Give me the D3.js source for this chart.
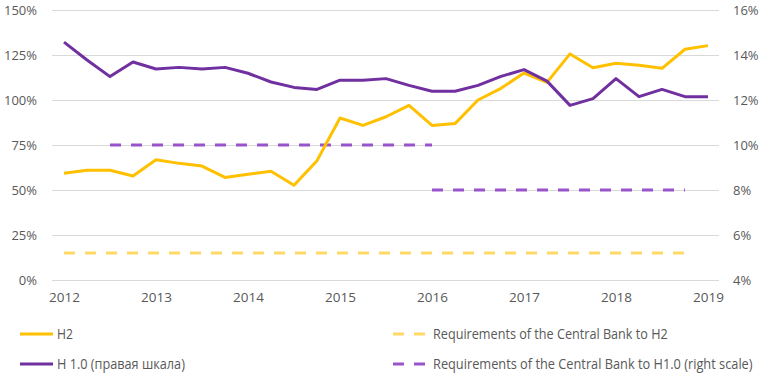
<!DOCTYPE html>
<html>
<head>
<meta charset="utf-8">
<script src="https://cdn.jsdelivr.net/npm/d3@7"></script>
<style>
  html, body { margin: 0; padding: 0; background: #fff; }
  svg { display: block; }
  text { font-family: "Open Sans", "DejaVu Sans", sans-serif; fill: #595959; }
</style>
</head>
<body>
<svg id="chart" width="767" height="382"></svg>
<script>
// ---- data ----
const quarters = [2012, 2012.25, 2012.5, 2012.75, 2013, 2013.25, 2013.5, 2013.75,
  2014, 2014.25, 2014.5, 2014.75, 2015, 2015.25, 2015.5, 2015.75,
  2016, 2016.25, 2016.5, 2016.75, 2017, 2017.25, 2017.5, 2017.75,
  2018, 2018.25, 2018.5, 2018.75, 2019];
const h2 = [59.3, 61, 61, 57.8, 66.8, 64.8, 63.3, 57, 58.7, 60.4, 52.6, 66.3,
  90, 85.9, 90.7, 97, 85.9, 86.9, 100, 106.5, 115, 109.8, 125.6, 117.9,
  120.4, 119.3, 117.6, 128.2, 130.2];
const h1 = [14.57, 13.78, 13.04, 13.69, 13.38, 13.45, 13.38, 13.45, 13.19, 12.8,
  12.56, 12.47, 12.88, 12.88, 12.95, 12.65, 12.39, 12.39, 12.65, 13.05, 13.35,
  12.84, 11.76, 12.06, 12.95, 12.15, 12.47, 12.15, 12.15];
const reqH2 = [15, 15, 15, 15, 15, 15, 15, 15, 15, 15, 15, 15, 15, 15, 15, 15,
  15, 15, 15, 15, 15, 15, 15, 15, 15, 15, 15, 15, null];
const reqH1Early = [null, null, 10, 10, 10, 10, 10, 10, 10, 10, 10, 10, 10, 10, 10, 10,
  10, null, null, null, null, null, null, null, null, null, null, null, null];
const reqH1Late = [null, null, null, null, null, null, null, null, null, null, null, null,
  null, null, null, null, 8, 8, 8, 8, 8, 8, 8, 8, 8, 8, 8, 8, null];
const yearTicks = [2012, 2013, 2014, 2015, 2016, 2017, 2018, 2019];
const leftTicks = [0, 25, 50, 75, 100, 125, 150];
const rightTicks = [4, 6, 8, 10, 12, 14, 16];
const legendLabels = ["H2", "Н 1.0 (правая шкала)",
  "Requirements of the Central Bank to H2",
  "Requirements of the Central Bank to H1.0 (right scale)"];

// ---- styles ----
const C_H2 = "#FFC000", C_REQH2 = "#FFD966", C_H1 = "#7030A0", C_REQH1 = "#9954CC";

const svg = d3.select("#chart");
const x = d3.scaleLinear().domain([2012, 2019]).range([64, 708]);
const yL = d3.scaleLinear().domain([0, 150]).range([280, 10]);
const yR = d3.scaleLinear().domain([4, 16]).range([280, 10]);

// gridlines
svg.append("g").selectAll("line").data(leftTicks).join("line")
  .attr("x1", 52).attr("x2", 719)
  .attr("y1", d => yL(d)).attr("y2", d => yL(d))
  .attr("stroke", "#d9d9d9").attr("stroke-width", 1).attr("shape-rendering", "crispEdges");

// axes
const axL = svg.append("g").attr("transform", "translate(37,0)")
  .call(d3.axisLeft(yL).tickValues(leftTicks).tickFormat(d => d + "%").tickSize(0).tickPadding(0));
const axR = svg.append("g").attr("transform", "translate(733,0)")
  .call(d3.axisRight(yR).tickValues(rightTicks).tickFormat(d => d + "%").tickSize(0).tickPadding(0));
const axB = svg.append("g").attr("transform", "translate(0,292)")
  .call(d3.axisBottom(x).tickValues(yearTicks).tickFormat(d3.format("d")).tickSize(0).tickPadding(0));
[axL, axR, axB].forEach(a => {
  a.select(".domain").remove();
  a.selectAll("text").attr("font-size", 13).attr("fill", "#595959")
    .style("font-family", "'Open Sans', sans-serif");
});
axB.selectAll("text").attr("dy", "0.71em").attr("font-size", 13.5);

// lines
const lineL = d3.line().defined(d => d.v != null).x(d => x(d.q)).y(d => yL(d.v));
const lineR = d3.line().defined(d => d.v != null).x(d => x(d.q)).y(d => yR(d.v));
const zip = arr => quarters.map((q, i) => ({ q, v: arr[i] }));

svg.append("path").datum(zip(reqH2)).attr("d", lineL)
  .attr("fill", "none").attr("stroke", C_REQH2).attr("stroke-width", 3)
  .attr("stroke-dasharray", "11,10");
svg.append("path").datum(zip(reqH1Early)).attr("d", lineR)
  .attr("fill", "none").attr("stroke", C_REQH1).attr("stroke-width", 3)
  .attr("stroke-dasharray", "11,10");
svg.append("path").datum(zip(reqH1Late)).attr("d", lineR)
  .attr("fill", "none").attr("stroke", C_REQH1).attr("stroke-width", 3)
  .attr("stroke-dasharray", "11,10");
svg.append("path").datum(zip(h2)).attr("d", lineL)
  .attr("fill", "none").attr("stroke", C_H2).attr("stroke-width", 3)
  .attr("stroke-linejoin", "round");
svg.append("path").datum(zip(h1)).attr("d", lineR)
  .attr("fill", "none").attr("stroke", C_H1).attr("stroke-width", 3)
  .attr("stroke-linejoin", "round");

// legend
const legend = [
  { label: legendLabels[0], color: C_H2, dash: null, x: 20, y: 334, w: 16 },
  { label: legendLabels[1], color: C_H1, dash: null, x: 20, y: 364, w: 128 },
  { label: legendLabels[2], color: C_REQH2, dash: "11,10", x: 393, y: 334, w: 235 },
  { label: legendLabels[3], color: C_REQH1, dash: "11,10", x: 393, y: 364, w: 320 }
];
const lg = svg.append("g").selectAll("g").data(legend).join("g")
  .attr("transform", d => `translate(${d.x},${d.y})`);
lg.append("line").attr("x1", 0).attr("x2", 33).attr("y1", 0).attr("y2", 0)
  .attr("stroke", d => d.color).attr("stroke-width", 3)
  .attr("stroke-dasharray", d => d.dash);
lg.append("g")
  .attr("transform", d => `translate(${d.dash ? 40 : 37},5)`)
  .append("text").attr("x", 0).attr("y", 0)
  .attr("font-size", 14)
  .text(d => d.label)
  .each(function (d) {
    const natural = this.getComputedTextLength();
    const s = natural > 0 ? d.w / natural : 1;
    d3.select(this.parentNode).attr("transform", `translate(${d.dash ? 40 : 37},5) scale(${s},1)`);
  });
</script>
</body>
</html>
